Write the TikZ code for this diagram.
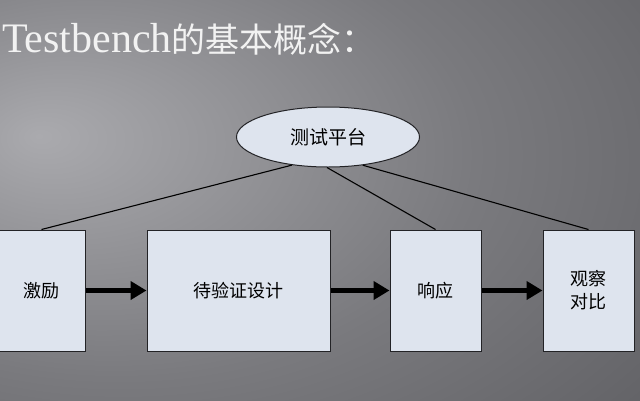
\documentclass[tikz,border=0pt]{standalone}
\usepackage{fontspec}
\setmainfont{Liberation Serif}
\newfontfamily\cjk{Noto Sans CJK SC}
\usetikzlibrary{shapes.geometric,arrows.meta}
\definecolor{bglight}{RGB}{170,170,174}
\definecolor{bgmid}{RGB}{122,122,126}
\definecolor{bgdark}{RGB}{82,82,86}
\definecolor{boxfill}{RGB}{222,228,238}
\definecolor{edgecol}{RGB}{35,35,38}
\definecolor{titlecol}{RGB}{242,242,242}
\pgfdeclareradialshading{bgshade}{\pgfpoint{-22bp}{8bp}}{color(0bp)=(bglight); color(28bp)=(bgmid); color(62bp)=(bgdark); color(100bp)=(bgdark)}
\begin{document}
\begin{tikzpicture}[x=1pt,y=-1pt,
  blockbox/.style={draw=edgecol, line width=1pt, fill=boxfill, minimum height=121pt, inner sep=0pt, font=\cjk\fontsize{18}{23}\selectfont, align=center},
  topnode/.style={ellipse, draw=edgecol, line width=1pt, fill=boxfill, minimum width=183pt, minimum height=60pt, inner sep=0pt, font=\cjk\fontsize{19}{23}\selectfont},
  link/.style={draw=black, line width=1.1pt},
  flow/.style={draw=black, line width=4.5pt, -{Triangle[length=16pt,width=18pt]}}
]
\shade[shading=bgshade] (0,0) rectangle (640,400);
\useasboundingbox (0,0) rectangle (640,400);

\node[anchor=base west, text=titlecol, inner sep=0pt] (title) at (2,52)
  {{\fontsize{42}{48}\selectfont Testbench}{\cjk\fontsize{34}{40}\selectfont 的基本概念：}};

\node[topnode] (tb) at (328,137) {测试平台};

\node[blockbox, minimum width=87pt] (b1) at (41.5,290.5) {激励};
\node[blockbox, minimum width=183pt] (b2) at (238.5,290.5) {待验证设计};
\node[blockbox, minimum width=91pt] (b3) at (435.5,290.5) {响应};
\node[blockbox, minimum width=91pt] (b4) at (588.5,290.5) {观察\\对比};

\draw[link] (tb.218) -- (b1.north);
\draw[link] (tb.268) -- (b3.north);
\draw[link] (tb.321) -- (b4.north);

\draw[flow] (b1.east) -- (b2.west);
\draw[flow] (b2.east) -- (b3.west);
\draw[flow] (b3.east) -- (b4.west);
\end{tikzpicture}
\end{document}
